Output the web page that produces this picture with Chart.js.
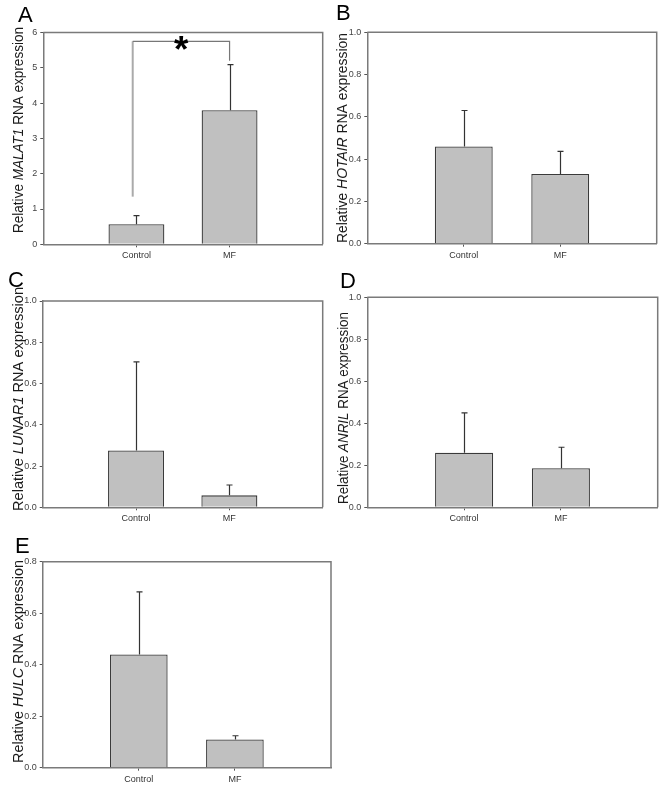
<!DOCTYPE html>
<html>
<head>
<meta charset="utf-8">
<script src="https://cdn.jsdelivr.net/npm/chart.js@4.4.1/dist/chart.umd.min.js"></script>
<style>
  body { margin: 0; background: #fff; width: 669px; height: 799px; position: relative; overflow: hidden; }
  canvas { position: absolute; }
</style>
</head>
<body>
<canvas id="cA" width="334" height="266"></canvas>
<canvas id="cB" width="349" height="266"></canvas>
<canvas id="cC" width="334" height="266"></canvas>
<canvas id="cD" width="349" height="266"></canvas>
<canvas id="cE" width="334" height="267"></canvas>
<script>
// 數據
const categories = ['', 'Control', 'MF', ''];
const genes = ['MALAT1', 'HOTAIR', 'LUNAR1', 'ANRIL', 'HULC'];
const letters = ['A', 'B', 'C', 'D', 'E'];
const meanMALAT1 = [0.57, 3.80];
const sdMALAT1 = [0.24, 1.29];
const meanHOTAIR = [0.46, 0.33];
const sdHOTAIR = [0.17, 0.107];
const meanLUNAR1 = [0.275, 0.058];
const sdLUNAR1 = [0.43, 0.05];
const meanANRIL = [0.26, 0.186];
const sdANRIL = [0.19, 0.10];
const meanHULC = [0.44, 0.11];
const sdHULC = [0.243, 0.014];
const yMax = [6, 1, 1, 1, 0.8];
const yStep = [1, 0.2, 0.2, 0.2, 0.2];
// 顯著性標記 (A)
const sigX = [0.96, 2.0];
const sigY = 5.75;
const sigLegBottom = [1.35, 5.2];

const means = [meanMALAT1, meanHOTAIR, meanLUNAR1, meanANRIL, meanHULC];
const sds = [sdMALAT1, sdHOTAIR, sdLUNAR1, sdANRIL, sdHULC];

// 版面 (page px)
const boxes = [
  { id: 'cA', x: 0,   y: 0,   w: 334, h: 266, L: 43.3,  R: 322.7, T: 32.5,  B: 244.3 },
  { id: 'cB', x: 320, y: 0,   w: 349, h: 266, L: 367.3, R: 656.7, T: 32.3,  B: 243.7 },
  { id: 'cC', x: 0,   y: 266, w: 334, h: 266, L: 42.7,  R: 322.7, T: 301,   B: 507.3 },
  { id: 'cD', x: 320, y: 266, w: 349, h: 266, L: 367.3, R: 657.7, T: 297.3, B: 507.3 },
  { id: 'cE', x: 0,   y: 532, w: 334, h: 267, L: 42.7,  R: 332.3, T: 561.7, B: 767.7 }
];
const titles = [
  { bx: 22.5,  cy: 130,   len: 206 },
  { bx: 347,   cy: 138,   len: 210 },
  { bx: 22.5,  cy: 399,   len: 224 },
  { bx: 347.5, cy: 408,   len: 192 },
  { bx: 22.5,  cy: 661.5, len: 203 }
];
const letterPos = [
  { x: 18, y: 22 }, { x: 336, y: 20 }, { x: 8, y: 287 }, { x: 340, y: 288 }, { x: 15, y: 553 }
];

const FONT = '"Liberation Sans", Arial, sans-serif';
const AXIS = '#7a7a7a';

function drawTitle(ctx, gene, bx, cy, len) {
  const parts = [['Relative ', false], [gene, true], [' RNA expression', false]];
  const size = 15;
  const fontOf = it => (it ? 'italic ' : '') + size + 'px ' + FONT;
  let w = 0;
  parts.forEach(p => { ctx.font = fontOf(p[1]); w += ctx.measureText(p[0]).width; });
  ctx.save();
  ctx.translate(bx, cy);
  ctx.rotate(-Math.PI / 2);
  ctx.scale(len / w, 1);
  ctx.fillStyle = '#1a1a1a';
  ctx.textBaseline = 'alphabetic';
  ctx.textAlign = 'left';
  let xx = -w / 2;
  parts.forEach(p => {
    ctx.font = fontOf(p[1]);
    ctx.fillText(p[0], xx, 0);
    xx += ctx.measureText(p[0]).width;
  });
  ctx.restore();
}

const deco = {
  id: 'deco',
  afterDatasetsDraw(chart, args, opts) {
    const i = opts.index, b = boxes[i];
    const { ctx, chartArea: a, scales: { x, y } } = chart;
    ctx.save();
    // 誤差線
    ctx.strokeStyle = '#333';
    ctx.lineWidth = 1.2;
    means[i].forEach((m, k) => {
      const px = Math.round(x.getPixelForValue(k + 1)) + 0.5;
      const y0 = y.getPixelForValue(m), y1 = y.getPixelForValue(m + sds[i][k]);
      ctx.beginPath();
      ctx.moveTo(px, y0); ctx.lineTo(px, y1);
      ctx.moveTo(px - 3, y1); ctx.lineTo(px + 3, y1);
      ctx.stroke();
    });
    // 外框
    ctx.strokeStyle = AXIS;
    ctx.lineWidth = 1.5;
    ctx.beginPath();
    ctx.moveTo(a.left, a.top); ctx.lineTo(a.right, a.top); ctx.lineTo(a.right, a.bottom);
    ctx.stroke();
    // 顯著性
    if (i === 0) {
      const xl = x.getPixelForValue(sigX[0]), xr = x.getPixelForValue(sigX[1]);
      const yt = y.getPixelForValue(sigY);
      ctx.strokeStyle = '#aaa'; ctx.lineWidth = 2;
      ctx.beginPath(); ctx.moveTo(xl, yt); ctx.lineTo(xl, y.getPixelForValue(sigLegBottom[0])); ctx.stroke();
      ctx.strokeStyle = '#777'; ctx.lineWidth = 1.2;
      ctx.beginPath();
      ctx.moveTo(xl, yt); ctx.lineTo(xr, yt); ctx.lineTo(xr, y.getPixelForValue(sigLegBottom[1]));
      ctx.stroke();
      // 星號
      ctx.font = 'bold 100px ' + FONT;
      const m = ctx.measureText('*');
      const h100 = m.actualBoundingBoxAscent + m.actualBoundingBoxDescent;
      const s = 100 * 14 / h100;
      ctx.font = 'bold ' + s + 'px ' + FONT;
      const m2 = ctx.measureText('*');
      const cx = (xl + xr) / 2, cy = yt + 1.5;
      ctx.fillStyle = '#000';
      ctx.textAlign = 'center';
      ctx.textBaseline = 'alphabetic';
      ctx.fillText('*', cx, cy + (m2.actualBoundingBoxAscent - m2.actualBoundingBoxDescent) / 2);
    }
    // 軸標題與字母
    drawTitle(ctx, genes[i], titles[i].bx - b.x, titles[i].cy - b.y, titles[i].len);
    ctx.fillStyle = '#000';
    ctx.font = '22px ' + FONT;
    ctx.textAlign = 'left';
    ctx.textBaseline = 'alphabetic';
    ctx.fillText(letters[i], letterPos[i].x - b.x, letterPos[i].y - b.y);
    ctx.restore();
  }
};

boxes.forEach((b, i) => {
  const cv = document.getElementById(b.id);
  cv.style.left = b.x + 'px';
  cv.style.top = b.y + 'px';
  const yw = b.L - b.x, xh = b.y + b.h - b.B;
  new Chart(cv.getContext('2d'), {
    type: 'bar',
    data: {
      labels: categories,
      datasets: [{
        data: [null, means[i][0], means[i][1], null],
        backgroundColor: '#c0c0c0',
        borderColor: '#3a3a3a',
        borderWidth: 1.3,
        categoryPercentage: 0.6,
        barPercentage: 1
      }]
    },
    options: {
      responsive: false,
      animation: false,
      devicePixelRatio: 1,
      layout: { padding: { top: b.T - b.y, right: b.x + b.w - b.R, left: 0, bottom: 0 } },
      plugins: { legend: { display: false }, tooltip: { enabled: false }, deco: { index: i } },
      scales: {
        x: {
          offset: false,
          grid: {
            offset: false, drawOnChartArea: false, tickLength: 3,
            color: c => (c.tick && c.tick.label) ? '#555' : 'rgba(0,0,0,0)'
          },
          border: { color: AXIS, width: 1.5 },
          ticks: { font: { size: 9, family: FONT }, color: '#333', padding: 3, maxRotation: 0, autoSkip: false },
          afterFit: s => { s.height = xh; }
        },
        y: {
          min: 0, max: yMax[i],
          grid: { drawOnChartArea: false, tickLength: 3, color: '#555' },
          border: { color: AXIS, width: 1.5 },
          ticks: {
            stepSize: yStep[i], font: { size: 9, family: FONT }, color: '#444', padding: 3,
            callback: v => i === 0 ? String(Math.round(v)) : v.toFixed(1)
          },
          afterFit: s => { s.width = yw; }
        }
      }
    },
    plugins: [deco]
  });
});
</script>
</body>
</html>
